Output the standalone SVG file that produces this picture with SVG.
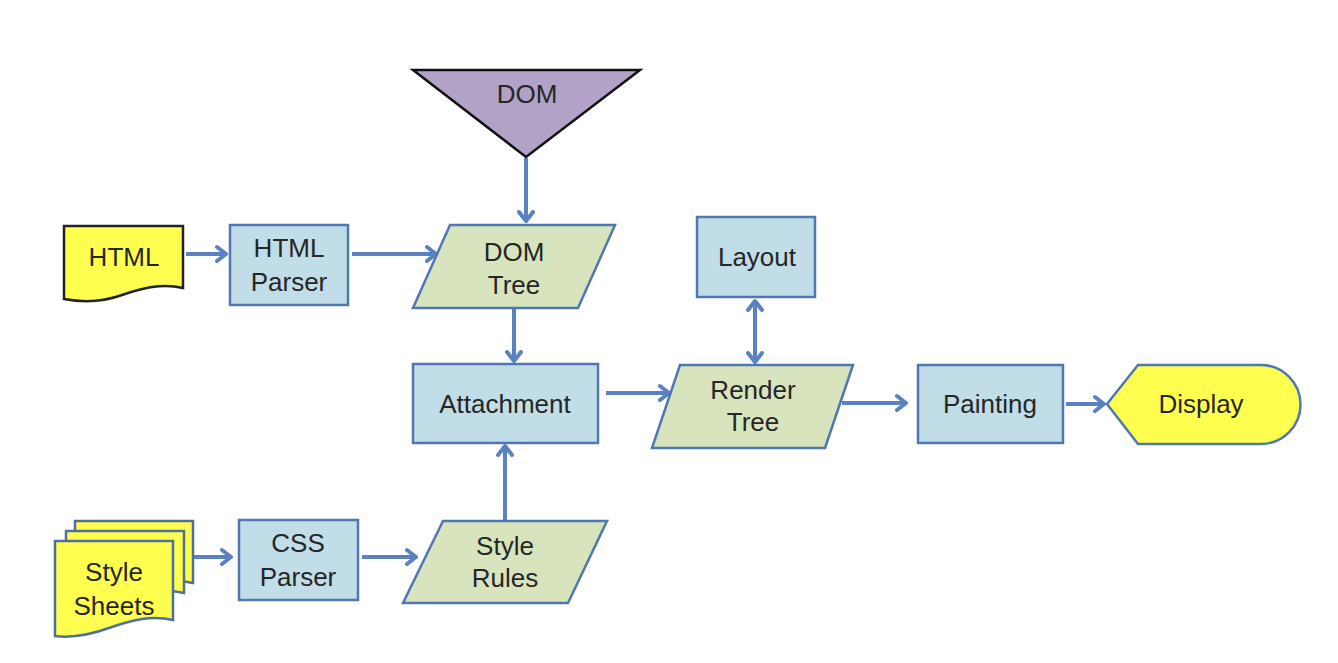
<svg xmlns="http://www.w3.org/2000/svg" width="1338" height="663" viewBox="0 0 1338 663">
<style>
.box{fill:#c0dde8;stroke:#5078b0;stroke-width:2.5}
.para{fill:#d7e4bd;stroke:#5078b0;stroke-width:2.5}
.doc{fill:#ffff4f;stroke:#222;stroke-width:2.5}
.docb{fill:#ffff4f;stroke:#4f6f9f;stroke-width:2.5}
.term{fill:#ffff4f;stroke:#5078b0;stroke-width:2.5}
.tri{fill:#b3a2c7;stroke:#111;stroke-width:2.5}
text{font-family:"Liberation Sans",Arial,sans-serif;font-size:26px;fill:#262626;text-anchor:middle;dominant-baseline:central}
.c{fill:none;stroke:#5a82c2;stroke-width:4}
</style>
<defs>
<marker id="ah" markerUnits="userSpaceOnUse" markerWidth="20" markerHeight="20" refX="11" refY="8" orient="auto-start-reverse" viewBox="0 0 20 16">
<path d="M2,1 L11,8 L2,15" fill="none" stroke="#5a82c2" stroke-width="4" stroke-linecap="round" stroke-linejoin="round"/>
</marker>
</defs>
<rect width="1338" height="663" fill="#fff"/>
<g id="connectors">
<line class="c" x1="186" y1="254" x2="226" y2="254" marker-end="url(#ah)"/>
<line class="c" x1="352" y1="254" x2="436" y2="254" marker-end="url(#ah)"/>
<line class="c" x1="526" y1="158" x2="526" y2="221" marker-end="url(#ah)"/>
<line class="c" x1="514" y1="309" x2="514" y2="361" marker-end="url(#ah)"/>
<line class="c" x1="505" y1="521" x2="505" y2="446" marker-end="url(#ah)"/>
<line class="c" x1="606" y1="393" x2="669" y2="393" marker-end="url(#ah)"/>
<line class="c" x1="755" y1="301" x2="755" y2="362" marker-start="url(#ah)" marker-end="url(#ah)"/>
<line class="c" x1="842" y1="403" x2="906" y2="403" marker-end="url(#ah)"/>
<line class="c" x1="1066" y1="404" x2="1104" y2="404" marker-end="url(#ah)"/>
<line class="c" x1="194" y1="557" x2="231" y2="557" marker-end="url(#ah)"/>
<line class="c" x1="362" y1="557" x2="416" y2="557" marker-end="url(#ah)"/>
</g>
<g id="html">
<path class="doc" d="M64,226 H183 V288 C162,283 142,288 122,295 C100,303 80,302 64,299 Z"/>
<text x="124" y="257">HTML</text>
</g>
<g id="html-parser">
<rect class="box" x="230" y="225" width="118" height="80"/>
<text x="289" y="248">HTML</text>
<text x="289" y="282">Parser</text>
</g>
<g id="dom">
<path class="tri" d="M413,70 H640 L526,157 Z"/>
<text x="527" y="94">DOM</text>
</g>
<g id="dom-tree">
<path class="para" d="M450,225 H615 L578,308 H413 Z"/>
<text x="514" y="252">DOM</text>
<text x="514" y="285">Tree</text>
</g>
<g id="attachment">
<rect class="box" x="413" y="364" width="185" height="79"/>
<text x="505" y="404">Attachment</text>
</g>
<g id="layout">
<rect class="box" x="697" y="217" width="118" height="80"/>
<text x="757" y="257">Layout</text>
</g>
<g id="render-tree">
<path class="para" d="M680,365 H853 L825,448 H652 Z"/>
<text x="753" y="390">Render</text>
<text x="753" y="422">Tree</text>
</g>
<g id="painting">
<rect class="box" x="918" y="365" width="145" height="78"/>
<text x="990" y="404">Painting</text>
</g>
<g id="display">
<path class="term" d="M1107,404 L1138,365 H1261 A39.5,39.5 0 0 1 1261,444 H1138 Z"/>
<text x="1201" y="404">Display</text>
</g>
<g id="style-sheets">
<path class="docb" d="M75,521 H193 V583 C172,578 152,583 132,590 C110,598 90,597 75,594 Z"/>
<path class="docb" d="M66,531 H184 V593 C163,588 143,593 123,600 C101,608 81,607 66,604 Z"/>
<path class="docb" d="M55,541 H173 V620 C152,615 132,620 112,627 C90,635 70,638 55,636 Z"/>
<text x="114" y="572">Style</text>
<text x="114" y="606">Sheets</text>
</g>
<g id="css-parser">
<rect class="box" x="239" y="520" width="119" height="80"/>
<text x="298" y="543">CSS</text>
<text x="298" y="577">Parser</text>
</g>
<g id="style-rules">
<path class="para" d="M443,521 H607 L568,603 H403 Z"/>
<text x="505" y="546">Style</text>
<text x="505" y="578">Rules</text>
</g>
</svg>
